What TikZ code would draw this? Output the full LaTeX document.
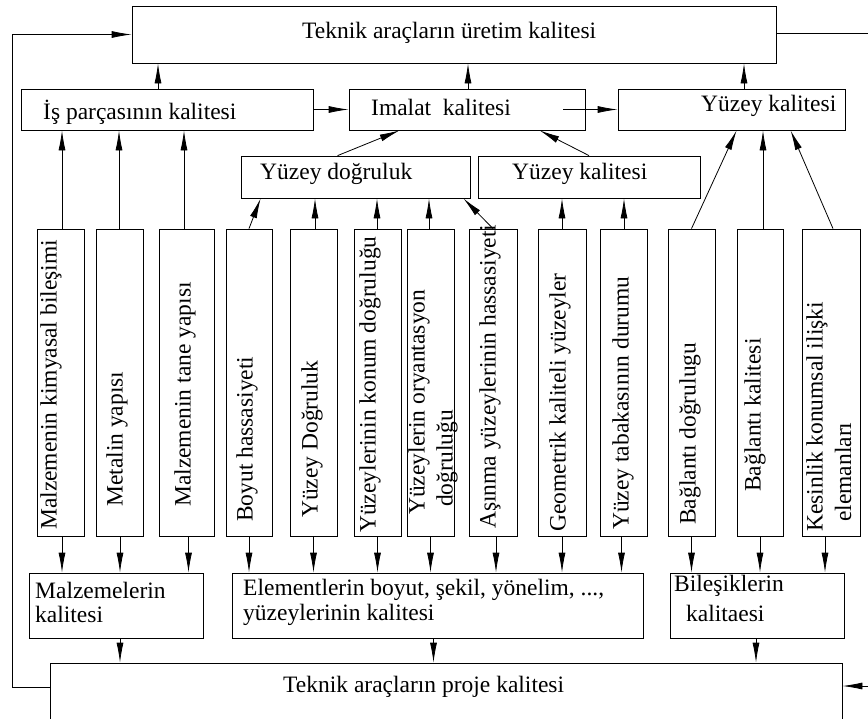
\documentclass[tikz,border=0pt]{standalone}
\usepackage{fontspec}
\setmainfont{Liberation Serif}
\usetikzlibrary{arrows.meta}
\begin{document}
\begin{tikzpicture}[x=1pt,y=-1pt,
  box/.style={draw, line width=0.8pt, inner sep=0pt},
  txt/.style={inner sep=0pt, anchor=west, font=\fontsize{23.5}{26}\selectfont},
  vtxt/.style={txt, rotate=90},
  arr/.style={line width=0.8pt, -{Latex[length=20pt,width=7pt]}},
  ln/.style={line width=0.8pt}]
\useasboundingbox (0,0) rectangle (868,718);
\clip (0,0) rectangle (868,718);
% boxes
\node[box, minimum width=644pt, minimum height=57pt] (top) at (454,34.5) {};
\node[box, minimum width=292pt, minimum height=41pt] (is) at (167,109.5) {};
\node[box, minimum width=236pt, minimum height=41pt] (imalat) at (467,109.5) {};
\node[box, minimum width=227pt, minimum height=41pt] (ysk) at (731.5,109.5) {};
\node[box, minimum width=229pt, minimum height=42pt] (yd) at (355.5,177) {};
\node[box, minimum width=222pt, minimum height=42pt] (ykm) at (589,177) {};
\foreach \n/\cx/\w in {b1/60.5/47, b2/119.5/47, b3/186.5/55, b4/249/46, b5/313.5/47, b6/377.5/47, b7/430.5/47, b8/493/48, b9/562/48, b10/623.5/47, b11/691.5/47, b12/760/46, b13/831/58}
  \node[box, minimum width=\w pt, minimum height=307pt] (\n) at (\cx,382.5) {};
\node[box, minimum width=174pt, minimum height=65pt] (mk) at (116,605.5) {};
\node[box, minimum width=411pt, minimum height=65pt] (el) at (437.5,605.5) {};
\node[box, minimum width=174pt, minimum height=65pt] (bk) at (757,605.5) {};
\node[box, minimum width=792pt, minimum height=67pt] (bottom) at (446,696.5) {};
% texts
\node[txt] (t-top) at (302,33) {Teknik araçların üretim kalitesi};
\node[txt] (t-is) at (43,112) {İş parçasının kalitesi};
\node[txt] (t-im) at (371,107) {Imalat\ \ kalitesi};
\node[txt] (t-ysk) at (701,106) {Yüzey kalitesi};
\node[txt] (t-yd) at (260,174) {Yüzey doğruluk};
\node[txt] (t-ykm) at (512,174) {Yüzey kalitesi};
\node[vtxt] (t1) at (51,530) {Malzemenin kimyasal bileşimi};
\node[vtxt] (t2) at (117,507) {Metalin yapısı};
\node[vtxt] (t3) at (185,507) {Malzemenin tane yapısı};
\node[vtxt] (t4) at (247,522) {Boyut hassasiyeti};
\node[vtxt] (t5) at (312,518) {Yüzey Doğruluk};
\node[vtxt] (t6) at (370,533) {Yüzeylerinin konum doğruluğu};
\node[vtxt] (t7a) at (419,515) {Yüzeylerin oryantasyon};
\node[vtxt] (t7b) at (447,507) {doğruluğu};
\node[vtxt] (t8) at (490,529) {Aşınma yüzeylerinin hassasiyeti};
\node[vtxt] (t9) at (560,532) {Geometrik kaliteli yüzeyler};
\node[vtxt] (t10) at (623,530) {Yüzey tabakasının durumu};
\node[vtxt] (t11) at (690,525) {Bağlantı doğrulugu};
\node[vtxt] (t12) at (755,492) {Bağlantı kalitesi};
\node[vtxt] (t13a) at (817,532) {Kesinlik konumsal ilişki};
\node[vtxt] (t13b) at (843,522) {elemanları};
\node[txt] (t-mk1) at (35,590) {Malzemelerin};
\node[txt] (t-mk2) at (35,614) {kalitesi};
\node[txt] (t-el1) at (243,590) {Elementlerin boyut, şekil, yönelim, ...,};
\node[txt] (t-el2) at (243,615) {yüzeylerinin kalitesi};
\node[txt] (t-bk1) at (674,586) {Bileşiklerin};
\node[txt] (t-bk2) at (686,613) {kalitaesi};
\node[txt] (t-bot) at (283,687) {Teknik araçların proje kalitesi};
% upper arrows
\draw[arr] ([xshift=-9pt]is.north) -- ([xshift=-9pt]is.north |- top.south);
\draw[arr] ([xshift=1pt]imalat.north) -- ([xshift=1pt]imalat.north |- top.south);
\draw[arr] ([xshift=12.5pt]ysk.north) -- ([xshift=12.5pt]ysk.north |- top.south);
\draw[arr] (is.east) -- (imalat.west);
\draw[arr] ([xshift=-22pt]imalat.east) -- (ysk.west);
\draw[arr] ([xshift=97pt]yd.north west) -- ([xshift=51pt]imalat.south west);
\draw[arr] (ykm.north) -- ([xshift=191pt]imalat.south west);
% vertical boxes up
\draw[arr] ([xshift=1.5pt]b1.north) -- ([xshift=1.5pt]b1.north |- is.south);
\draw[arr] ([xshift=-0.5pt]b2.north) -- ([xshift=-0.5pt]b2.north |- is.south);
\draw[arr] ([xshift=-2.5pt]b3.north) -- ([xshift=-2.5pt]b3.north |- is.south);
\draw[arr] (b4.north) -- ([xshift=20pt]yd.south west);
\draw[arr] ([xshift=1.5pt]b5.north) -- ([xshift=1.5pt]b5.north |- yd.south);
\draw[arr] ([xshift=-0.5pt]b6.north) -- ([xshift=-0.5pt]b6.north |- yd.south);
\draw[arr] ([xshift=-1.5pt]b7.north) -- ([xshift=-1.5pt]b7.north |- yd.south);
\draw[arr] (b8.north) -- ([xshift=-7pt]yd.south east);
\draw[arr] (b9.north) -- (b9.north |- ykm.south);
\draw[arr] ([xshift=0.5pt]b10.north) -- ([xshift=0.5pt]b10.north |- ykm.south);
\draw[arr] (b11.north) -- ([xshift=119pt]ysk.south west);
\draw[arr] ([xshift=3pt]b12.north) -- ([xshift=3pt]b12.north |- ysk.south);
\draw[arr] ([xshift=2pt]b13.north) -- ([xshift=173pt]ysk.south west);
% vertical boxes down
\draw[arr] ([xshift=1.5pt]b1.south) -- ([xshift=1.5pt]b1.south |- mk.north);
\draw[arr] ([xshift=0.5pt]b2.south) -- ([xshift=0.5pt]b2.south |- mk.north);
\draw[arr] ([xshift=2pt]b3.south) -- ([xshift=2pt]b3.south |- mk.north);
\draw[arr] (b4.south) -- (b4.south |- el.north);
\draw[arr] (b5.south) -- (b5.south |- el.north);
\draw[arr] (b6.south) -- (b6.south |- el.north);
\draw[arr] (b7.south) -- (b7.south |- el.north);
\draw[arr] ([xshift=3pt]b8.south) -- ([xshift=3pt]b8.south |- el.north);
\draw[arr] (b9.south) -- (b9.south |- el.north);
\draw[arr] ([xshift=-2pt]b10.south) -- ([xshift=-2pt]b10.south |- el.north);
\draw[arr] (b11.south) -- (b11.south |- bk.north);
\draw[arr] (b12.south) -- (b12.south |- bk.north);
\draw[arr] ([xshift=-6pt]b13.south) -- ([xshift=-6pt]b13.south |- bk.north);
% lower row to bottom
\draw[arr] ([xshift=4pt]mk.south) -- ([xshift=4pt]mk.south |- bottom.north);
\draw[arr] ([xshift=-4pt]el.south) -- ([xshift=-4pt]el.south |- bottom.north);
\draw[arr] ([xshift=-1pt]bk.south) -- ([xshift=-1pt]bk.south |- bottom.north);
% feedback lines
\coordinate (fbL) at (12,687);
\draw[arr] (fbL -| bottom.west) -- (fbL) |- (top.west);
\coordinate (rt) at (868,33);
\draw[ln] (top.east |- rt) -- (rt);
\coordinate (rb) at (868,686);
\draw[arr] (rb) -- (rb -| bottom.east);
\end{tikzpicture}
\end{document}
